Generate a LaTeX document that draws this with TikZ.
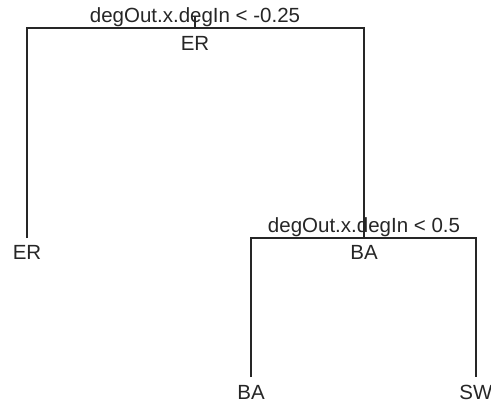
\documentclass[tikz,border=0pt]{standalone}
\usepackage{fontspec}
\setmainfont{Liberation Sans}
\usetikzlibrary{positioning}

\begin{document}
\begin{tikzpicture}[x=1pt,y=-1pt,
		branch/.style={line width=1.6pt,black!85},
		lbl/.style={anchor=base,inner sep=0pt,font=\fontsize{20.5}{24}\selectfont,text=black!85}]
		\useasboundingbox (0,0) rectangle (491,402);
		% root split
		\coordinate (root) at (195,17);
		\coordinate (rootL) at (27,28);
		\coordinate (rootR) at (364,28);
		\node[lbl] (rootcut) at (195,22) {degOut.x.degIn < -0.25};
		\node[lbl] (rootcls) at (195,50) {ER};
		% second split
		\coordinate (midL) at (251,238);
		\coordinate (midR) at (476,238);
		\coordinate (mid) at (364,238);
		\node[lbl] (midcut) at (364,232) {degOut.x.degIn < 0.5};
		\node[lbl] (midcls) at (364,259) {BA};
		% leaves
		\coordinate (leafER) at (27,238);
		\coordinate (leafBA) at (251,377);
		\coordinate (leafSW) at (476,377);
		\node[lbl] (ER) at (27,259) {ER};
		\node[lbl] (BA) at (251,399) {BA};
		\node[lbl] (SW) at (476,399) {SW};
		% branches
		\draw[branch] (root) -- (root |- rootL);
		\draw[branch] (leafER) -- (rootL) -- (rootR) -- (mid);
		\draw[branch] (leafBA) -- (midL) -- (midR) -- (leafSW);
	\end{tikzpicture}
\end{document}
